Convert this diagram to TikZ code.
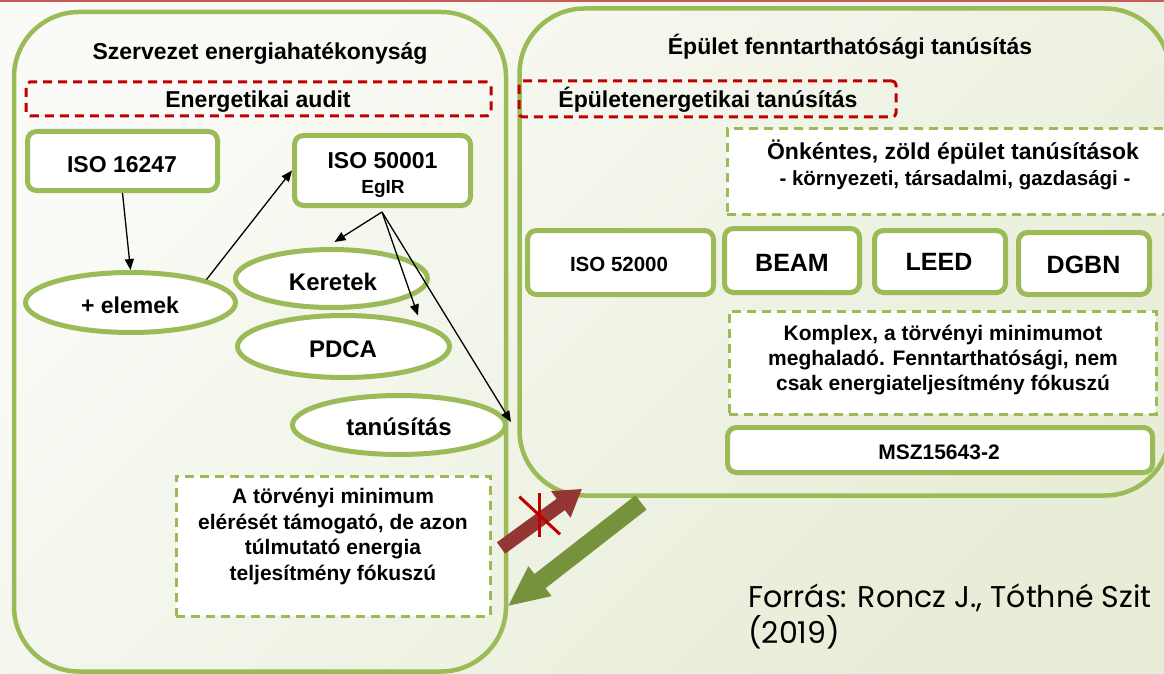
\documentclass[tikz,border=0pt]{standalone}
\usepackage{fontspec}
\setmainfont{Liberation Sans}
\newfontfamily\gothic{Poppins}
\usetikzlibrary{arrows.meta,shapes.geometric,calc}
\definecolor{gr}{HTML}{9BBB59}
\definecolor{grd}{HTML}{76923C}
\definecolor{rd}{HTML}{C00000}
\definecolor{rdd}{HTML}{943634}
\definecolor{rdl}{HTML}{C0504D}
\definecolor{topline}{HTML}{C85A5A}
\definecolor{bgA}{HTML}{FAFBF7}
\definecolor{bgB}{HTML}{E7EDD7}
\newcommand{\fsz}[1]{\fontsize{#1}{#1}\selectfont}
\begin{document}
\begin{tikzpicture}[x=1pt,y=-1pt,
  container/.style={draw=gr,line width=4.5pt,rounded corners=65pt,inner sep=0pt},
  rbox/.style={draw=gr,fill=white,line width=5pt,rounded corners=9pt,inner sep=0pt},
  ell/.style={ellipse,draw=gr,fill=white,line width=5pt,inner sep=0pt},
  gdash/.style={draw=gr,fill=white,line width=3pt,dash pattern=on 9pt off 6pt,inner sep=0pt},
  rdash/.style={draw=rd,line width=3pt,dash pattern=on 9pt off 6pt,rounded corners=4pt,inner sep=0pt},
  lab/.style={font=\bfseries\fsz{23},anchor=base,inner sep=0pt},
  conn/.style={-{Triangle[length=11pt,width=9pt]},line width=1.3pt,black}]
\useasboundingbox (0,0) rectangle (1164,674);
\begin{scope}
\clip (0,0) rectangle (1164,674);
\shade[top color=bgA,bottom color=bgB,shading angle=45] (0,0) rectangle (1164,674);
\fill[topline] (0,0) rectangle (1164,2.5);

% containers
\node[container,minimum width=492pt,minimum height=659.5pt] (left) at (260,341.75) {};
\node[container,minimum width=650.5pt,minimum height=487pt] (right) at (844.75,252) {};

% titles
\node[lab] (t1) at (260,60) {Szervezet energiahatékonyság};
\node[lab] (t2) at (850,55) {Épület fenntarthatósági tanúsítás};

% red dashed boxes
\node[rdash,minimum width=465pt,minimum height=34pt] (audit) at (258.5,99) {};
\node[lab] (audittxt) at (258,108) {Energetikai audit};
\node[rdash,minimum width=377pt,minimum height=36pt] (epen) at (707.5,99) {};
\node[lab] (epentxt) at (708,108) {Épületenergetikai tanúsítás};

% left column
\node[rbox,minimum width=190pt,minimum height=59pt] (iso16) at (122.5,161) {};
\node[lab] (iso16txt) at (122,172) {ISO 16247};
\node[rbox,minimum width=176pt,minimum height=70pt] (iso50) at (382.5,170.5) {};
\node[lab] (iso50txt) at (382.5,168) {ISO 50001};
\node[lab,font=\bfseries\fsz{19}] (egir) at (383,193) {EgIR};

\node[ell,minimum width=210pt,minimum height=60pt] (elemek) at (130.5,302.5) {};
\node[lab,font=\bfseries\fsz{23}] (elemektxt) at (130,313) {+ elemek};
\node[ell,minimum width=192pt,minimum height=58pt] (keretek) at (331.5,278.5) {};
\node[lab,font=\bfseries\fsz{24}] (kerettxt) at (333,290) {Keretek};
\node[ell,minimum width=212pt,minimum height=62pt] (pdca) at (343.5,346.5) {};
\node[lab,font=\bfseries\fsz{24}] (pdcatxt) at (343,357) {PDCA};
\node[ell,minimum width=213pt,minimum height=59pt] (tanus) at (399,425) {};
\node[lab,font=\bfseries\fsz{24}] (tanustxt) at (399,435) {tanúsítás};

\node[gdash,minimum width=314pt,minimum height=140pt] (minbox) at (333,546) {};
\node[lab,font=\bfseries\fontsize{21}{25.4}\selectfont,align=center] (mintxt) at (333,580)
  {A törvényi minimum\\elérését támogató, de azon\\túlmutató energia\\teljesítmény fókuszú};

% right column
\node[gdash,minimum width=453pt,minimum height=85pt] (onk) at (953.5,171.5) {};
\node[lab] (onktxt) at (953,160) {Önkéntes, zöld épület tanúsítások};
\node[lab,font=\bfseries\fsz{20.5}] (onktxt2) at (955,185) {- környezeti, társadalmi, gazdasági -};

\node[rbox,minimum width=186pt,minimum height=64pt] (iso52) at (620.5,262.5) {};
\node[lab,font=\bfseries\fsz{20.5}] (iso52txt) at (619,271) {ISO 52000};
\node[rbox,minimum width=135pt,minimum height=64pt] (beam) at (792,260.5) {};
\node[lab,font=\bfseries\fsz{25}] (beamtxt) at (792,271) {BEAM};
\node[rbox,minimum width=131pt,minimum height=62pt] (leed) at (940,261.5) {};
\node[lab,font=\bfseries\fsz{25}] (leedtxt) at (939,270) {LEED};
\node[rbox,minimum width=131pt,minimum height=62pt] (dgbn) at (1084,263.5) {};
\node[lab,font=\bfseries\fsz{25}] (dgbntxt) at (1083.5,273) {DGBN};

\node[gdash,minimum width=427pt,minimum height=103pt] (komp) at (942.5,362.5) {};
\node[lab,font=\bfseries\fontsize{21}{25}\selectfont,align=center] (komptxt) at (943,390)
  {Komplex, a törvényi minimumot\\meghaladó. Fenntarthatósági, nem\\csak energiateljesítmény fókuszú};

\node[rbox,minimum width=425pt,minimum height=45pt] (msz) at (940,450) {};
\node[lab,font=\bfseries\fsz{21}] (msztxt) at (939,459) {MSZ15643-2};

% connectors
\coordinate (c50) at (382,212);
\draw[conn] (iso16.south) -- (elemek.north);
\draw[conn] (elemek.north east) -- (iso50.west);
\draw[conn] (c50) -- ($(keretek.north)+(3,-5)$);
\draw[conn] (c50) -- ($(pdca.north)+(74.5,2.5)$);
\draw[conn] (c50) -- ($(tanus.east)+(3,-3)$);

% block arrows
\begin{scope}[shift={(501,548)},rotate=36.1]
\shade[top color=rdd,middle color=rdl!85!white,bottom color=rdd,shading angle=36.1]
  (0,-7) -- (74,-7) -- (74,-16.5) -- (100,0) -- (74,16.5) -- (74,7) -- (0,7) -- cycle;
\end{scope}
\begin{scope}[shift={(641,502.5)},rotate=217.9]
\shade[top color=grd,middle color=gr,bottom color=grd,shading angle=217.9]
  (0,-9) -- (128,-9) -- (128,-19) -- (168,0) -- (128,19) -- (128,9) -- (0,9) -- cycle;
\end{scope}
% cross
\draw[rd,line width=3pt] (539.3,493) -- (539.3,537);
\draw[rd,line width=3pt] (519.3,496.7) -- (560,534.3);

% source
\node[anchor=base west,inner sep=0pt,font=\gothic\fontsize{30}{36}\selectfont,align=left] (src) at (748,643)
  {Forrás: Roncz J., Tóthné Szit\\(2019)};
\end{scope}
\end{tikzpicture}
\end{document}
